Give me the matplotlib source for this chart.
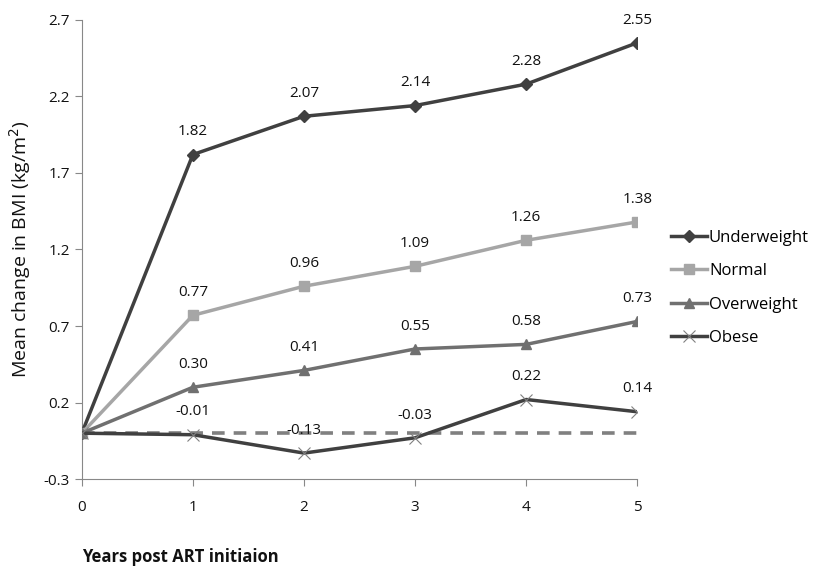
import numpy as np
import matplotlib
matplotlib.use("Agg")
import matplotlib.pyplot as plt

plt.rcParams['font.family'] = ['Open Sans', 'DejaVu Sans']

years = [0, 1, 2, 3, 4, 5]
underweight = [0, 1.82, 2.07, 2.14, 2.28, 2.55]
normal = [0, 0.77, 0.96, 1.09, 1.26, 1.38]
overweight = [0, 0.30, 0.41, 0.55, 0.58, 0.73]
obese = [0, -0.01, -0.13, -0.03, 0.22, 0.14]
yticks = [-0.3, 0.2, 0.7, 1.2, 1.7, 2.2, 2.7]

series = [
    ("Underweight", underweight, "#404040", "D", 6),
    ("Normal", normal, "#a6a6a6", "s", 7),
    ("Overweight", overweight, "#707070", "^", 7),
    ("Obese", obese, "#404040", "x", 8),
]

fig = plt.figure(figsize=(8.18, 5.67), dpi=100)
ax = fig.add_axes([0.100, 0.155, 0.679, 0.810])

ax.plot(years, [0] * len(years), color="#808080", lw=2.6, ls=(0, (3.5, 2.5)), zorder=1)

for name, vals, col, mk, ms in series:
    ax.plot(years, vals, color=col, lw=2.5, marker=mk, markersize=ms,
            markeredgewidth=1 if mk != "x" else 0.8,
            markeredgecolor=col if mk != "x" else "#808080", label=name, zorder=3)
    for x, v in zip(years[1:], vals[1:]):
        ax.annotate(f"{v:.2f}", (x, v), xytext=(0, 11), textcoords="offset points",
                    ha="center", va="bottom", fontsize=11, color="#111111")

ax.set_xlim(0, 5)
ax.set_ylim(-0.3, 2.7)
ax.set_yticks(yticks)
ax.set_yticklabels([f"{t:.1f}" for t in yticks])
ax.set_xticks(years)
for s in ["top", "right"]:
    ax.spines[s].set_visible(False)
for s in ["left", "bottom"]:
    ax.spines[s].set_color("#888888")
ax.tick_params(axis="both", colors="#888888", labelcolor="#111111", labelsize=11,
               direction="out", length=5)
ax.tick_params(axis="x", pad=10)

ax.set_ylabel("Mean change in BMI (kg/m$^2$)", fontsize=14, color="#111111", labelpad=8)
fig.text(180 / 818, 1 - 557 / 567, "Years post ART initiaion", fontsize=12,
         fontweight="bold", ha="center", va="center", color="#111111")

ax.legend(loc="center left", bbox_to_anchor=(1.06, 0.416), frameon=False,
          fontsize=12, handlelength=2.2, handletextpad=0.1, labelspacing=1.05,
          borderpad=0, borderaxespad=0)

fig.savefig("out.png", dpi=100)
